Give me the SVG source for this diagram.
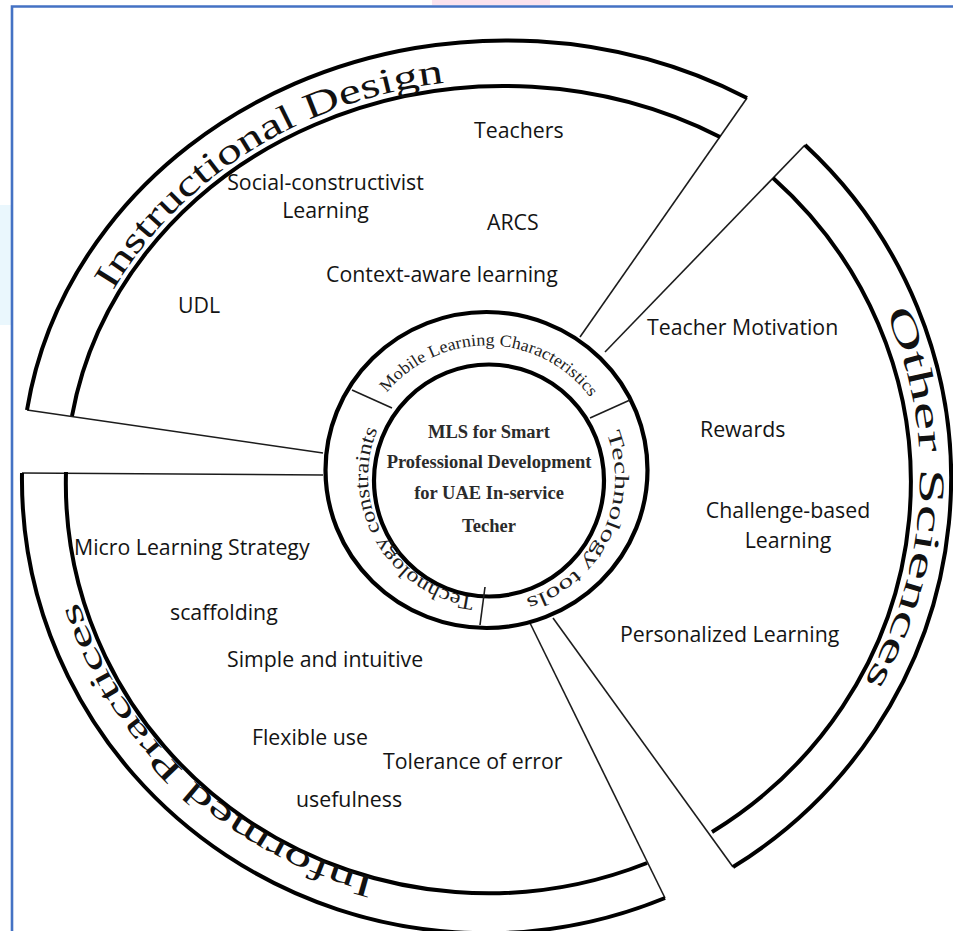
<svg xmlns="http://www.w3.org/2000/svg" xmlns:xlink="http://www.w3.org/1999/xlink" width="953" height="931" viewBox="0 0 953 931">
  <style>
    .band-line { fill: none; stroke: #000; stroke-width: 4; stroke-linecap: butt; }
    .ring-line { fill: none; stroke: #000; stroke-width: 4.2; }
    .spoke { fill: none; stroke: #1c1c1c; stroke-width: 1.6; }
    .lbl { font-family: "Open Sans", "Liberation Sans", sans-serif; font-size: 21.3px; fill: #141414; }
    .hub { font-family: "Liberation Serif", serif; font-weight: bold; font-size: 18.5px; fill: #2b2b2b; text-anchor: middle; }
    .ring-txt { font-family: "Liberation Serif", serif; fill: #1e1e1e; }
    .band-txt { font-family: "Liberation Serif", serif; fill: #111; }
  </style>
  <defs>
    <!-- baselines for the curved titles -->
    <path id="p-id" d="M 113 290.7 A 444 399 0 0 1 543.7 80.5"/>
    <path id="p-os" d="M 885.5 311.9 A 434 420 0 0 1 841.5 716.9"/>
    <path id="p-ip" d="M 375.2 877.8 A 428 416 0 0 1 64.5 548.2"/>
    <path id="p-mlc" d="M 386.8 392.8 A 129 129 0 0 1 595.2 404.6"/>
    <path id="p-tt" d="M 606.6 432.9 A 126 126 0 0 1 521.6 599.7"/>
    <path id="p-tc" d="M 474.3 597.1 A 121 121 0 0 1 384.2 416.5"/>
  </defs>

  <rect width="953" height="931" fill="#fff"/>

  <!-- page frame -->
  <g id="frame">
    <rect x="432" y="0" width="118" height="5" fill="#fbe3ee"/>
    <rect x="0" y="205" width="11" height="120" fill="#eaf7fd"/>
    <path d="M 12 931 L 12 6.5 L 953 6.5" fill="none" stroke="#4472c4" stroke-width="2.6"/>
  </g>

  <!-- spokes joining the bands to the hub -->
  <g id="connectors">
    <line class="spoke" x1="27" y1="410" x2="323" y2="453"/>
    <line class="spoke" x1="747" y1="98" x2="580" y2="337"/>
    <line class="spoke" x1="805" y1="145" x2="605" y2="352"/>
    <line class="spoke" x1="733" y1="867" x2="553" y2="618"/>
    <line class="spoke" x1="665" y1="898" x2="530" y2="623"/>
    <line class="spoke" x1="22" y1="473" x2="323" y2="475"/>
  </g>

  <!-- Instructional Design band -->
  <g id="instructional-design">
    <path class="band-line" d="M 27 410 A 484 433 0 0 1 747 98"/>
    <path class="band-line" d="M 72 416 A 438 393 0 0 1 720 137"/>
    <text class="band-txt" font-size="36"><textPath xlink:href="#p-id" textLength="405" lengthAdjust="spacingAndGlyphs">Instructional Design</textPath></text>
    <text class="lbl" x="474" y="138">Teachers</text>
    <text class="lbl" x="325.5" y="190" text-anchor="middle">Social-constructivist</text>
    <text class="lbl" x="325.5" y="218" text-anchor="middle">Learning</text>
    <text class="lbl" x="487" y="230">ARCS</text>
    <text class="lbl" x="326" y="282">Context-aware learning</text>
    <text class="lbl" x="178" y="313">UDL</text>
  </g>

  <!-- Other Sciences band -->
  <g id="other-sciences">
    <path class="band-line" d="M 805 145 A 464 458 0 0 1 733 867"/>
    <path class="band-line" d="M 773 178 A 428 414 0 0 1 712 832"/>
    <text class="band-txt" font-size="36"><textPath xlink:href="#p-os" textLength="385" lengthAdjust="spacingAndGlyphs">Other Sciences</textPath></text>
    <text class="lbl" x="647" y="335">Teacher Motivation</text>
    <text class="lbl" x="700" y="437">Rewards</text>
    <text class="lbl" x="788" y="518" text-anchor="middle">Challenge-based</text>
    <text class="lbl" x="788" y="548" text-anchor="middle">Learning</text>
    <text class="lbl" x="620" y="642">Personalized Learning</text>
  </g>

  <!-- Informed Practices band -->
  <g id="informed-practices">
    <path class="band-line" d="M 22 473 A 464 454 0 0 0 665 898"/>
    <path class="band-line" d="M 66 472 A 422 410 0 0 0 647 863"/>
    <text class="band-txt" font-size="32"><textPath xlink:href="#p-ip" textLength="423" lengthAdjust="spacingAndGlyphs">Informed Practices</textPath></text>
    <text class="lbl" x="74" y="555">Micro Learning Strategy</text>
    <text class="lbl" x="170" y="620">scaffolding</text>
    <text class="lbl" x="227" y="667">Simple and intuitive</text>
    <text class="lbl" x="252" y="745">Flexible use</text>
    <text class="lbl" x="383" y="769">Tolerance of error</text>
    <text class="lbl" x="296" y="807">usefulness</text>
  </g>

  <!-- central hub with its three ring segments -->
  <g id="hub">
    <ellipse class="ring-line" cx="486.5" cy="470" rx="161" ry="158" fill="#fff"/>
    <ellipse class="ring-line" cx="489" cy="480.5" rx="115" ry="116"/>
    <line class="spoke" x1="352" y1="390" x2="392" y2="408"/>
    <line class="spoke" x1="590" y1="418" x2="630" y2="400"/>
    <line class="spoke" x1="485" y1="587" x2="480" y2="625"/>
    <text class="ring-txt" font-size="17"><textPath xlink:href="#p-mlc" textLength="234" lengthAdjust="spacingAndGlyphs">Mobile Learning Characteristics</textPath></text>
    <text class="ring-txt" font-size="20"><textPath xlink:href="#p-tt" textLength="207" lengthAdjust="spacingAndGlyphs">Technology tools</textPath></text>
    <text class="ring-txt" font-size="20"><textPath xlink:href="#p-tc" textLength="224" lengthAdjust="spacingAndGlyphs">Technology constraints</textPath></text>
    <text class="hub" x="489" y="438">MLS for Smart</text>
    <text class="hub" x="489" y="468">Professional Development</text>
    <text class="hub" x="489" y="499">for UAE In-service</text>
    <text class="hub" x="489" y="532">Techer</text>
  </g>
</svg>
